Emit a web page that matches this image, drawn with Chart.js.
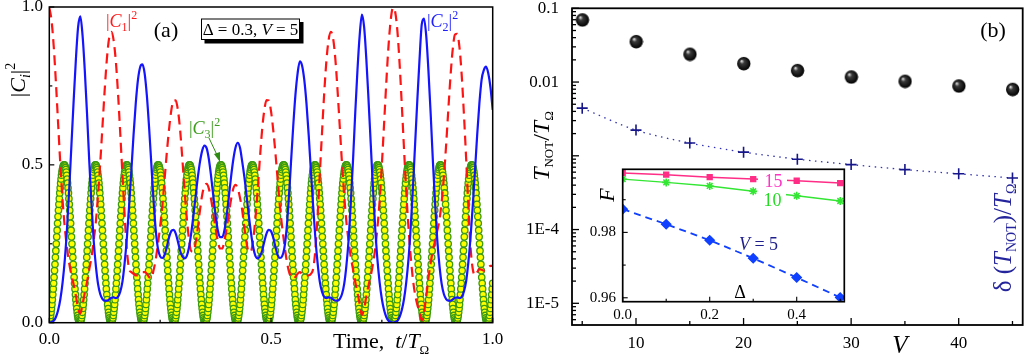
<!DOCTYPE html>
<html>
<head>
<meta charset="utf-8">
<script src="https://cdn.jsdelivr.net/npm/chart.js@4.4.1/dist/chart.umd.min.js"></script>
<style>
  body { margin: 0; background: #fff; }
  #wrap { position: relative; width: 1024px; height: 359px; overflow: hidden; }
  canvas { position: absolute; }
</style>
</head>
<body>
<div id="wrap">
  <canvas id="panelA" width="512" height="359" style="left:0;top:0"></canvas>
  <canvas id="panelB" width="512" height="359" style="left:512px;top:0"></canvas>
  <canvas id="inset" width="300" height="175" style="left:560px;top:160px"></canvas>
</div>
<script>
// ---- Panel (a): populations |C_i|^2 vs time t/T_Omega (Delta = 0.3, V = 5) ----
const C12_STEP = 0.005;       // sampling step of |C1|^2 and |C2|^2
const C3_STEP = 0.00098215;   // sampling step of |C3|^2 (one marker per sample)

const c1Pop = [
  .998,.958,.875,.759,.628,.499,.387,.301,.236,.187,
  .150,.120,.085,.045,.029,.058,.095,.128,.168,.206,
  .259,.320,.406,.509,.624,.739,.838,.902,.921,.895,
  .829,.726,.600,.468,.338,.230,.170,.160,.155,.150,
  .150,.155,.160,.160,.155,.145,.140,.165,.200,.250,
  .305,.370,.454,.538,.612,.671,.704,.704,.674,.611,
  .520,.421,.333,.265,.227,.225,.253,.301,.358,.406,
  .435,.440,.424,.390,.345,.298,.260,.235,.235,.261,
  .299,.347,.391,.425,.437,.425,.396,.357,.300,.252,
  .224,.227,.265,.333,.421,.521,.612,.674,.705,.704,
  .670,.611,.537,.453,.369,.305,.250,.200,.165,.145,
  .140,.145,.155,.160,.155,.150,.150,.150,.155,.170,
  .230,.338,.469,.601,.727,.830,.896,.921,.901,.837,
  .738,.623,.508,.406,.320,.259,.207,.169,.129,.095,
  .059,.024,.045,.084,.119,.149,.186,.235,.301,.387,
  .500,.629,.760,.876,.959,.998,.985,.925,.821,.690,
  .550,.416,.303,.210,.139,.089,.057,.034,.007,.033,
  .082,.141,.188,.230,.258,.291,.326,.384,.464,.564,
  .677,.784,.868,.913,.915,.873,.786,.663,.523,.373,
  .240,.170,.150,.160,.170,.168,.165,.168,.175,.180,
  .180
];

const c2Pop = [
  0,.002,.006,.018,.040,.075,.128,.200,.300,.425,
  .565,.705,.835,.937,.970,.910,.800,.665,.515,.380,
  .262,.180,.122,.090,.075,.070,.070,.074,.079,.080,
  .078,.082,.098,.130,.190,.270,.370,.480,.595,.695,
  .770,.810,.818,.790,.720,.620,.505,.390,.295,.235,
  .210,.205,.215,.240,.270,.290,.294,.283,.257,.228,
  .210,.204,.211,.238,.283,.339,.401,.461,.511,.546,
  .561,.552,.517,.463,.400,.340,.293,.271,.271,.293,
  .340,.400,.463,.517,.555,.570,.555,.511,.461,.401,
  .339,.283,.238,.211,.204,.210,.228,.257,.283,.294,
  .290,.270,.240,.215,.205,.210,.235,.295,.390,.505,
  .620,.720,.790,.828,.815,.770,.695,.595,.480,.370,
  .270,.190,.130,.098,.082,.078,.080,.079,.074,.070,
  .070,.075,.090,.122,.180,.262,.380,.515,.665,.800,
  .910,.976,.937,.835,.705,.565,.425,.300,.200,.128,
  .075,.040,.018,.006,.002,0,.002,.006,.018,.040,
  .075,.128,.200,.300,.425,.565,.705,.835,.945,.963,
  .910,.800,.665,.515,.380,.262,.180,.122,.090,.075,
  .070,.070,.074,.079,.080,.078,.082,.098,.130,.190,
  .270,.370,.480,.595,.695,.770,.800,.811,.790,.745,
  .674
];

// |C3|^2 oscillates regularly between 0 and 0.5 (one row = one oscillation)
const c3Pop = [
  .004,.009,.015,.023,.033,.045,.058,.073,.089,.107,.125,.144,.165,.185,.207,.228,.25,.272,.293,.315,.336,.356,.375,.393,.411,.427,.442,.455,.467,.477,.485,.491,.496,.499,.5,.499,.496,.491,.485,.477,.467,.455,.442,.427,.411,.393,.375,.356,.336,.315,.293,.272,.25,.228,.207,.185,.165,.144,.125,.107,.089,.073,.058,.045,.033,.023,.015,.009,.004,.001,0,.001,
  .004,.009,.015,.023,.033,.045,.058,.073,.089,.107,.125,.144,.165,.185,.207,.228,.25,.272,.293,.315,.336,.356,.375,.393,.411,.427,.442,.455,.467,.477,.485,.491,.496,.499,.5,.499,.496,.491,.485,.477,.467,.455,.442,.427,.411,.393,.375,.356,.336,.315,.293,.272,.25,.228,.207,.185,.165,.144,.125,.107,.089,.073,.058,.045,.033,.023,.015,.009,.004,.001,0,.001,
  .004,.009,.015,.023,.033,.045,.058,.073,.089,.107,.125,.144,.165,.185,.207,.228,.25,.272,.293,.315,.336,.356,.375,.393,.411,.427,.442,.455,.467,.477,.485,.491,.496,.499,.5,.499,.496,.491,.485,.477,.467,.455,.442,.427,.411,.393,.375,.356,.336,.315,.293,.272,.25,.228,.207,.185,.165,.144,.125,.107,.089,.073,.058,.045,.033,.023,.015,.009,.004,.001,0,.001,
  .004,.009,.015,.023,.033,.045,.058,.073,.089,.107,.125,.144,.165,.185,.207,.228,.25,.272,.293,.315,.336,.356,.375,.393,.411,.427,.442,.455,.467,.477,.485,.491,.496,.499,.5,.499,.496,.491,.485,.477,.467,.455,.442,.427,.411,.393,.375,.356,.336,.315,.293,.272,.25,.228,.207,.185,.165,.144,.125,.107,.089,.073,.058,.045,.033,.023,.015,.009,.004,.001,0,.001,
  .004,.009,.015,.023,.033,.045,.058,.073,.089,.107,.125,.144,.165,.185,.207,.228,.25,.272,.293,.315,.336,.356,.375,.393,.411,.427,.442,.455,.467,.477,.485,.491,.496,.499,.5,.499,.496,.491,.485,.477,.467,.455,.442,.427,.411,.393,.375,.356,.336,.315,.293,.272,.25,.228,.207,.185,.165,.144,.125,.107,.089,.073,.058,.045,.033,.023,.015,.009,.004,.001,0,.001,
  .004,.009,.015,.023,.033,.045,.058,.073,.089,.107,.125,.144,.165,.185,.207,.228,.25,.272,.293,.315,.336,.356,.375,.393,.411,.427,.442,.455,.467,.477,.485,.491,.496,.499,.5,.499,.496,.491,.485,.477,.467,.455,.442,.427,.411,.393,.375,.356,.336,.315,.293,.272,.25,.228,.207,.185,.165,.144,.125,.107,.089,.073,.058,.045,.033,.023,.015,.009,.004,.001,0,.001,
  .004,.009,.015,.023,.033,.045,.058,.073,.089,.107,.125,.144,.165,.185,.207,.228,.25,.272,.293,.315,.336,.356,.375,.393,.411,.427,.442,.455,.467,.477,.485,.491,.496,.499,.5,.499,.496,.491,.485,.477,.467,.455,.442,.427,.411,.393,.375,.356,.336,.315,.293,.272,.25,.228,.207,.185,.165,.144,.125,.107,.089,.073,.058,.045,.033,.023,.015,.009,.004,.001,0,.001,
  .004,.009,.015,.023,.033,.045,.058,.073,.089,.107,.125,.144,.165,.185,.207,.228,.25,.272,.293,.315,.336,.356,.375,.393,.411,.427,.442,.455,.467,.477,.485,.491,.496,.499,.5,.499,.496,.491,.485,.477,.467,.455,.442,.427,.411,.393,.375,.356,.336,.315,.293,.272,.25,.228,.207,.185,.165,.144,.125,.107,.089,.073,.058,.045,.033,.023,.015,.009,.004,.001,0,.001,
  .004,.009,.015,.023,.033,.045,.058,.073,.089,.107,.125,.144,.165,.185,.207,.228,.25,.272,.293,.315,.336,.356,.375,.393,.411,.427,.442,.455,.467,.477,.485,.491,.496,.499,.5,.499,.496,.491,.485,.477,.467,.455,.442,.427,.411,.393,.375,.356,.336,.315,.293,.272,.25,.228,.207,.185,.165,.144,.125,.107,.089,.073,.058,.045,.033,.023,.015,.009,.004,.001,0,.001,
  .004,.009,.015,.023,.033,.045,.058,.073,.089,.107,.125,.144,.165,.185,.207,.228,.25,.272,.293,.315,.336,.356,.375,.393,.411,.427,.442,.455,.467,.477,.485,.491,.496,.499,.5,.499,.496,.491,.485,.477,.467,.455,.442,.427,.411,.393,.375,.356,.336,.315,.293,.272,.25,.228,.207,.185,.165,.144,.125,.107,.089,.073,.058,.045,.033,.023,.015,.009,.004,.001,0,.001,
  .004,.009,.015,.023,.033,.045,.058,.073,.089,.107,.125,.144,.165,.185,.207,.228,.25,.272,.293,.315,.336,.356,.375,.393,.411,.427,.442,.455,.467,.477,.485,.491,.496,.499,.5,.499,.496,.491,.485,.477,.467,.455,.442,.427,.411,.393,.375,.356,.336,.315,.293,.272,.25,.228,.207,.185,.165,.144,.125,.107,.089,.073,.058,.045,.033,.023,.015,.009,.004,.001,0,.001,
  .004,.009,.015,.023,.033,.045,.058,.073,.089,.107,.125,.144,.165,.185,.207,.228,.25,.272,.293,.315,.336,.356,.375,.393,.411,.427,.442,.455,.467,.477,.485,.491,.496,.499,.5,.499,.496,.491,.485,.477,.467,.455,.442,.427,.411,.393,.375,.356,.336,.315,.293,.272,.25,.228,.207,.185,.165,.144,.125,.107,.089,.073,.058,.045,.033,.023,.015,.009,.004,.001,0,.001,
  .004,.009,.015,.023,.033,.045,.058,.073,.089,.107,.125,.144,.165,.185,.207,.228,.25,.272,.293,.315,.336,.356,.375,.393,.411,.427,.442,.455,.467,.477,.485,.491,.496,.499,.5,.499,.496,.491,.485,.477,.467,.455,.442,.427,.411,.393,.375,.356,.336,.315,.293,.272,.25,.228,.207,.185,.165,.144,.125,.107,.089,.073,.058,.045,.033,.023,.015,.009,.004,.001,0,.001,
  .004,.009,.015,.023,.033,.045,.058,.073,.089,.107,.125,.144,.165,.185,.207,.228,.25,.272,.293,.315,.336,.356,.375,.393,.411,.427,.442,.455,.467,.477,.485,.491,.496,.499,.5,.499,.496,.491,.485,.477,.467,.455,.442,.427,.411,.393,.375,.356,.336,.315,.293,.272,.25,.228,.207,.185,.165,.144,.125,.107,.089,.073,.058,.045,.033,.023,.015,.009,.004,.001,0,.001,
  .004,.009,.015,.023,.033,.045,.058,.073,.089,.107,.125
];

const aTickValues = [0, 0.25, 0.5, 0.75, 1];
const aTickLabels = ['0.0', '', '0.5', '', '1.0'];

// ---- Panel (b): NOT-gate time and its uncertainty vs V ----
const vValues = [5, 10, 15, 20, 25, 30, 35, 40, 45];
const tNot = [0.070, 0.0356, 0.024, 0.0179, 0.0144, 0.0118, 0.0103, 0.0089, 0.0080];
const dtNot = [0.00443, 0.00223, 0.00149, 0.00112, 0.00090, 0.00076, 0.00065, 0.00057, 0.00050];

const bXTickValues = [5, 10, 15, 20, 25, 30, 35, 40, 45];
const bXTickLabels = ['', '10', '', '20', '', '30', '', '40', ''];
const bYDecades = [1e-6, 1e-5, 1e-4, 1e-3, 1e-2, 1e-1];
const bYDecadeLabels = ['', '1E-5', '1E-4', '', '0.01', '0.1'];

// ---- Inset: fidelity F vs detuning Delta ----
const deltaValues = [0, 0.1, 0.2, 0.3, 0.4, 0.5];
const fidV5 = [0.9871, 0.9825, 0.9776, 0.9721, 0.9662, 0.9601];
const fidV10 = [0.9963, 0.9953, 0.9942, 0.9926, 0.9912, 0.9896];
const fidV15 = [0.9982, 0.99765, 0.9969, 0.9963, 0.9958, 0.9951];

const insetXTickValues = [0, 0.1, 0.2, 0.3, 0.4, 0.5];
const insetXTickLabels = ['0.0', '', '0.2', '', '0.4', ''];
const insetYTickValues = [0.96, 0.97, 0.98, 0.99];
const insetYTickLabels = ['0.96', '', '0.98', ''];

// ---------------------------------------------------------------------------
const SERIF = '"Liberation Serif", "Times New Roman", serif';
const F = (size, style) => (style || '') + ' ' + size + 'px ' + SERIF;

Chart.defaults.font.family = SERIF;
Chart.defaults.color = '#000';

function tickList(values, labels) {
  return values.map((v, i) => ({ value: v, label: labels[i], major: labels[i] !== '' }));
}

function logTickList(decades, labels, min, max) {
  const list = [];
  decades.forEach((d, i) => {
    for (let m = 1; m <= 9; m++) {
      const v = m * d;
      if (v < min * 0.999 || v > max * 1.001) continue;
      list.push({ value: v, label: m === 1 ? labels[i] : '', major: m === 1 });
    }
  });
  return list;
}

// axis with fixed ticks and a fixed size, so the plot box lands where we want it
function axis(type, min, max, ticks, fontSize, padding, size) {
  return {
    type, min, max,
    afterBuildTicks: s => { s.ticks = ticks.map(t => ({ value: t.value, major: t.major })); },
    afterFit: s => {
      if (s.isHorizontal()) s.height = size; else s.width = size;
      s.paddingLeft = s.paddingRight = s.paddingTop = s.paddingBottom = 0;
    },
    grid: { display: false, drawTicks: false },
    border: { display: false },
    ticks: {
      autoSkip: false, maxRotation: 0, padding: padding, color: '#000',
      font: { family: SERIF, size: fontSize },
      callback: (v, i) => (ticks[i] ? ticks[i].label : '')
    }
  };
}

// inward tick marks plus a closed frame round the plot area
const boxAxes = {
  id: 'boxAxes',
  afterDatasetsDraw(chart, args, opts) {
    const ctx = chart.ctx, a = chart.chartArea;
    ctx.save();
    ctx.strokeStyle = '#000';
    ctx.lineWidth = opts.tickWidth;
    Object.values(chart.scales).forEach(scale => {
      scale.ticks.forEach(t => {
        const p = scale.getPixelForValue(t.value);
        const len = t.major ? opts.major : opts.minor;
        ctx.beginPath();
        if (scale.isHorizontal()) { ctx.moveTo(p, a.bottom); ctx.lineTo(p, a.bottom - len); }
        else { ctx.moveTo(a.left, p); ctx.lineTo(a.left + len, p); }
        ctx.stroke();
      });
    });
    ctx.lineWidth = opts.frameWidth;
    ctx.strokeRect(a.left, a.top, a.right - a.left, a.bottom - a.top);
    ctx.restore();
  }
};

// text made of pieces (sub/superscripts, italics); optional rotation
function drawParts(ctx, parts, x, y, opt) {
  opt = opt || {};
  ctx.save();
  ctx.translate(x, y);
  if (opt.rotate) ctx.rotate(-Math.PI / 2);
  ctx.textBaseline = 'alphabetic';
  ctx.textAlign = 'left';
  ctx.fillStyle = opt.color || '#000';
  let w = 0;
  parts.forEach(p => { ctx.font = p[1]; w += ctx.measureText(p[0]).width; });
  let cx = opt.align === 'left' ? 0 : -w / 2;
  parts.forEach(p => {
    ctx.font = p[1];
    ctx.fillText(p[0], cx, p[2] || 0);
    cx += ctx.measureText(p[0]).width;
  });
  ctx.restore();
}

function makeSphere(r) {
  const c = document.createElement('canvas');
  c.width = c.height = 2 * r + 2;
  const g = c.getContext('2d');
  const o = r + 1;
  const grad = g.createRadialGradient(o - r * 0.35, o - r * 0.4, r * 0.05, o, o, r);
  grad.addColorStop(0, '#e0e0e0');
  grad.addColorStop(0.3, '#3a3a3a');
  grad.addColorStop(1, '#000');
  g.fillStyle = grad;
  g.beginPath();
  g.arc(o, o, r, 0, Math.PI * 2);
  g.fill();
  return c;
}

// ---------------------------- panel (a) ------------------------------------
const t12 = c2Pop.map((_, i) => i * C12_STEP);
const t3 = c3Pop.map((_, i) => i * C3_STEP);
const aTicks = tickList(aTickValues, aTickLabels);

const panelALabels = {
  id: 'panelALabels',
  afterDraw(chart) {
    const ctx = chart.ctx;
    drawParts(ctx, [['(a)', F(22)]], 166, 37);

    // parameter box with drop shadow
    ctx.save();
    ctx.fillStyle = '#000';
    ctx.fillRect(204.5, 22, 99, 21.5);
    ctx.fillStyle = '#fff';
    ctx.fillRect(201, 18.5, 99, 21.5);
    ctx.strokeStyle = '#000';
    ctx.lineWidth = 1;
    ctx.strokeRect(201.5, 19, 98, 20.5);
    ctx.restore();
    drawParts(ctx, [['\u0394 = 0.3, ', F(17)], ['V', F(17, 'italic')], [' = 5', F(17)]], 250.5, 35);

    drawParts(ctx, [['|', F(18)], ['C', F(18, 'italic')], ['1', F(12), 4], ['|', F(18)], ['2', F(12), -8]],
      106, 26.5, { align: 'left', color: '#ff1a1a' });
    drawParts(ctx, [['|', F(18)], ['C', F(18, 'italic')], ['2', F(12), 4], ['|', F(18)], ['2', F(12), -8]],
      427, 27, { align: 'left', color: '#2020ff' });
    drawParts(ctx, [['|', F(18)], ['C', F(18, 'italic')], ['3', F(12), 4], ['|', F(18)], ['2', F(12), -8]],
      189, 134, { align: 'left', color: '#3c9c1c' });

    // arrow from the |C3|^2 label to its curve
    ctx.save();
    ctx.strokeStyle = '#2e8b12';
    ctx.fillStyle = '#2e8b12';
    ctx.lineWidth = 1;
    ctx.beginPath(); ctx.moveTo(209, 138); ctx.lineTo(217.5, 156); ctx.stroke();
    ctx.beginPath(); ctx.moveTo(220, 162); ctx.lineTo(214, 154); ctx.lineTo(220, 152); ctx.closePath(); ctx.fill();
    ctx.restore();

    // axis titles
    drawParts(ctx, [['|', F(22)], ['C', F(22, 'italic')], ['i', F(14, 'italic'), 5], ['|', F(22)], ['2', F(14), -10]],
      25, 80, { rotate: true });
    drawParts(ctx, [['Time,  ', F(22)], ['t', F(22, 'italic')], ['/', F(22)], ['T', F(22, 'italic')], ['\u03A9', F(13), 6]],
      333, 348, { align: 'left' });
  }
};

new Chart(document.getElementById('panelA'), {
  type: 'scatter',
  data: {
    datasets: [
      {
        label: '|C2|^2',
        data: t12.map((t, i) => ({ x: t, y: c2Pop[i] })),
        showLine: true, borderColor: '#1414ff', borderWidth: 2.2,
        pointRadius: 0, cubicInterpolationMode: 'monotone', order: 0
      },
      {
        label: '|C1|^2',
        data: t12.map((t, i) => ({ x: t, y: c1Pop[i] })),
        showLine: true, borderColor: '#ff1414', borderWidth: 2.2, borderDash: [10, 6],
        pointRadius: 0, cubicInterpolationMode: 'monotone', order: 1
      },
      {
        label: '|C3|^2',
        data: t3.map((t, i) => ({ x: t, y: c3Pop[i] })),
        showLine: false, pointRadius: 3.2, pointBorderWidth: 1.3,
        pointBackgroundColor: '#ffff00', pointBorderColor: '#3a9a14', order: 2
      }
    ]
  },
  options: {
    responsive: false, animation: false, events: [],
    layout: { autoPadding: false, padding: { left: 0, right: 19.3, top: 7, bottom: 0 } },
    scales: {
      x: axis('linear', 0, 1, aTicks, 17, 7, 36.3),
      y: axis('linear', 0, 1, aTicks, 17, 6.3, 49.3)
    },
    plugins: {
      legend: { display: false }, tooltip: { enabled: false },
      boxAxes: { major: 5, minor: 3, tickWidth: 1.2, frameWidth: 1.5 }
    }
  },
  plugins: [boxAxes, panelALabels]
});

// ---------------------------- panel (b) ------------------------------------
const B_YMIN = 5.08e-6, B_YMAX = 0.1;
const bXTicks = tickList(bXTickValues, bXTickLabels);
const bYTicks = logTickList(bYDecades, bYDecadeLabels, B_YMIN, B_YMAX);

const panelBLabels = {
  id: 'panelBLabels',
  afterDraw(chart) {
    const ctx = chart.ctx;
    drawParts(ctx, [['(b)', F(22)]], 481, 37);
    drawParts(ctx, [['V', F(25, 'italic')]], 388, 353);
    drawParts(ctx, [['T', F(24, 'italic')], ['NOT', F(13), 4], ['/', F(24)], ['T', F(24, 'italic')], ['\u03A9', F(13), 4]],
      37, 146, { rotate: true });
    drawParts(ctx, [['\u03B4 (', F(25)], ['T', F(25, 'italic')], ['NOT', F(14), 5], [')/', F(25)], ['T', F(25, 'italic')], ['\u03A9', F(14), 5]],
      499, 238, { rotate: true, color: '#24249c' });
  }
};

new Chart(document.getElementById('panelB'), {
  type: 'scatter',
  data: {
    datasets: [
      {
        label: 'T_NOT / T_Omega',
        data: vValues.map((v, i) => ({ x: v, y: tNot[i] })),
        showLine: false, pointStyle: makeSphere(6.7), order: 0
      },
      {
        label: 'delta(T_NOT) / T_Omega',
        data: vValues.map((v, i) => ({ x: v, y: dtNot[i] })),
        showLine: true, borderColor: '#3434b0', borderWidth: 1.3, borderDash: [1.5, 4.5],
        pointStyle: 'cross', pointRadius: 5.5, pointBorderWidth: 1.6, pointBorderColor: '#16168a',
        tension: 0.3, order: 1
      }
    ]
  },
  options: {
    responsive: false, animation: false, events: [],
    layout: { autoPadding: false, padding: { left: 0, right: 1.3, top: 8.3, bottom: 0 } },
    scales: {
      x: axis('linear', 4.05, 45.95, bXTicks, 17, 8, 34),
      y: axis('logarithmic', B_YMIN, B_YMAX, bYTicks, 17, 13, 60)
    },
    plugins: {
      legend: { display: false }, tooltip: { enabled: false },
      boxAxes: { major: 7, minor: 4, tickWidth: 1.3, frameWidth: 1.8 }
    }
  },
  plugins: [boxAxes, panelBLabels]
});

// ------------------------------ inset --------------------------------------
const insetXTicks = tickList(insetXTickValues, insetXTickLabels);
const insetYTicks = tickList(insetYTickValues, insetYTickLabels);

const insetBackground = {
  id: 'insetBackground',
  beforeDraw(chart) {
    const a = chart.chartArea, ctx = chart.ctx;
    ctx.save();
    ctx.fillStyle = '#fff';
    ctx.fillRect(a.left, a.top, a.right - a.left, a.bottom - a.top);
    ctx.restore();
  }
};

function boxedText(ctx, parts, x, y, box, color) {
  ctx.save();
  ctx.fillStyle = '#fff';
  ctx.fillRect(box[0], box[1], box[2], box[3]);
  ctx.restore();
  drawParts(ctx, parts, x, y, { color: color });
}

const insetLabels = {
  id: 'insetLabels',
  afterDatasetsDraw(chart) {
    const ctx = chart.ctx;
    boxedText(ctx, [['15', F(18)]], 213.5, 26.5, [198, 11, 29, 18], '#ff33c4');
    boxedText(ctx, [['10', F(18)]], 212.5, 46, [197, 31, 29, 18], '#22dd22');
    boxedText(ctx, [['V', F(18, 'italic')], [' = 5', F(18)]], 198.5, 90, [177, 75, 44, 16], '#1e1e8c');
    drawParts(ctx, [['\u0394', F(18)]], 180, 138);
  },
  afterDraw(chart) {
    drawParts(chart.ctx, [['F', F(22, 'italic')]], 54, 35, { rotate: true });
  }
};

new Chart(document.getElementById('inset'), {
  type: 'scatter',
  data: {
    datasets: [
      {
        label: 'V = 15',
        data: deltaValues.map((d, i) => ({ x: d, y: fidV15[i] })),
        showLine: true, borderColor: '#ff2d86', borderWidth: 1.5,
        pointStyle: 'rect', pointRadius: 3.4, pointBackgroundColor: '#ff2d86', order: 0
      },
      {
        label: 'V = 10',
        data: deltaValues.map((d, i) => ({ x: d, y: fidV10[i] })),
        showLine: true, borderColor: '#33e633', borderWidth: 1.4,
        pointStyle: 'star', pointRadius: 4, pointBorderWidth: 1.6, pointBackgroundColor: '#33e633', order: 1
      },
      {
        label: 'V = 5',
        data: deltaValues.map((d, i) => ({ x: d, y: fidV5[i] })),
        showLine: true, borderColor: '#1040ff', borderWidth: 1.8, borderDash: [7, 5],
        pointStyle: 'rectRot', pointRadius: 4.3, pointBackgroundColor: '#1040ff', order: 2
      }
    ]
  },
  options: {
    responsive: false, animation: false, events: [],
    layout: { autoPadding: false, padding: { left: 0, right: 15.7, top: 9.3, bottom: 0 } },
    scales: {
      x: axis('linear', 0, 0.5094, insetXTicks, 15, 4, 33.3),
      y: axis('linear', 0.9588, 0.9993, insetYTicks, 15, 6.7, 62.7)
    },
    plugins: {
      legend: { display: false }, tooltip: { enabled: false },
      boxAxes: { major: 5, minor: 3, tickWidth: 1.1, frameWidth: 1.7 }
    }
  },
  plugins: [insetBackground, boxAxes, insetLabels]
});
</script>
</body>
</html>
